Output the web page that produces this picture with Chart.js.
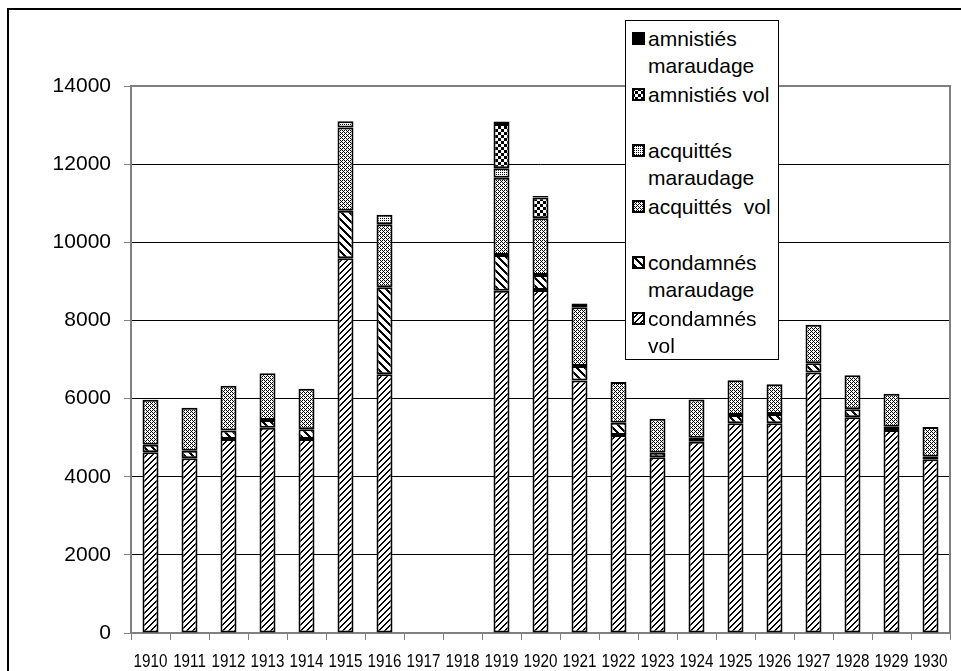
<!DOCTYPE html>
<html>
<head>
<meta charset="utf-8">
<script src="https://cdn.jsdelivr.net/npm/chart.js@4.4.1/dist/chart.umd.min.js"></script>
<style>
  html, body { margin: 0; padding: 0; background: #fff; overflow: hidden; }
  #wrap { position: relative; width: 961px; height: 671px; }
  #frame { position: absolute; left: 7px; top: 8px; width: 1000px; height: 700px; border: 2px solid #000; pointer-events: none; }
  #legend { position: absolute; left: 625px; top: 20px; width: 152px; height: 334px; background: #fff; border: 1px solid #000;
            font-family: "Liberation Sans", Arial, sans-serif; font-size: 21px; color: #000; padding-top: 4px; box-sizing: content-box; }
  .item { position: relative; height: 56px; line-height: 27px; padding-left: 22px; white-space: pre; }
  .item canvas { position: absolute; left: 6px; top: 7px; }
</style>
</head>
<body>
<div id="wrap">
  <canvas id="myBarChart" width="961" height="671"></canvas>
  <div id="frame"></div>
  <div id="legend"></div>
</div>
<script>
const years = ['1910', '1911', '1912', '1913', '1914', '1915', '1916', '1917', '1918', '1919',
               '1920', '1921', '1922', '1923', '1924', '1925', '1926', '1927', '1928', '1929', '1930'];

const condamnesVol       = [4625, 4470, 4965, 5255, 4965, 9590, 6625, null, null, 8760, 8780, 6460, 5068, 4497, 4896, 5367, 5367, 6670, 5520, 5196, 4446];
const condamnesMaraudage = [190, 195, 215, 195, 250, 1220, 2225, null, null, 915, 380, 375, 315, 118, 103, 213, 238, 233, 205, 85, 67];
const acquittesVol       = [1155, 1100, 1150, 1195, 1035, 2130, 1610, null, null, 1975, 1455, 1500, 1040, 870, 975, 886, 760, 985, 870, 845, 760];
const acquittesMaraudage = [0, 0, 0, 0, 0, 160, 245, null, null, 245, 0, 0, 0, 0, 0, 0, 0, 0, 0, 0, 0];
const amnistiesVol       = [0, 0, 0, 0, 0, 0, 0, null, null, 1135, 530, 0, 0, 0, 0, 0, 0, 0, 0, 0, 0];
const amnistiesMaraudage = [0, 0, 0, 0, 0, 0, 0, null, null, 60, 40, 100, 0, 0, 0, 0, 0, 0, 0, 0, 0];

const yTicks = [0, 2000, 4000, 6000, 8000, 10000, 12000, 14000];

// small black and white fills, like the old excel patterns
function makeTile(kind) {
    const c = document.createElement('canvas');
    const s = kind === 'back' ? 8 : (kind === 'checker' || kind === 'fwd') ? 6 : 4;
    c.width = s;
    c.height = s;
    const g = c.getContext('2d');
    g.fillStyle = '#fff';
    g.fillRect(0, 0, s, s);
    g.fillStyle = '#000';
    for (let x = 0; x < s; x++) {
        for (let y = 0; y < s; y++) {
            let on = false;
            if (kind === 'fwd') on = (x + y) % s < 2;
            if (kind === 'back') on = ((x - y) % s + s) % s < 3;
            if (kind === 'dense') on = (x % 2 === 0 && y % 2 === 0) || (x % 4 === 1 && y % 4 === 1) || (x % 4 === 3 && y % 4 === 3);
            if (kind === 'sparse') on = x % 2 === 0 && y % 2 === 0;
            if (kind === 'checker') on = (Math.floor(x / 3) + Math.floor(y / 3)) % 2 === 0;
            if (kind === 'black') on = true;
            if (on) g.fillRect(x, y, 1, 1);
        }
    }
    return c;
}

const ctx = document.getElementById('myBarChart').getContext('2d');
function pattern(kind) {
    return ctx.createPattern(makeTile(kind), 'repeat');
}

const series = [
    { label: 'condamnés\nvol', data: condamnesVol, kind: 'fwd' },
    { label: 'condamnés\nmaraudage', data: condamnesMaraudage, kind: 'back' },
    { label: 'acquittés  vol', data: acquittesVol, kind: 'dense' },
    { label: 'acquittés\nmaraudage', data: acquittesMaraudage, kind: 'sparse' },
    { label: 'amnistiés vol', data: amnistiesVol, kind: 'checker' },
    { label: 'amnistiés\nmaraudage', data: amnistiesMaraudage, kind: 'black' }
];

const plotFrame = {
    id: 'plotFrame',
    beforeDatasetsDraw(chart) {
        const a = chart.chartArea;
        const c = chart.ctx;
        c.save();
        c.strokeStyle = '#808080';
        c.lineWidth = 2;
        c.strokeRect(a.left, a.top, a.right - a.left, a.bottom - a.top);
        c.restore();
    }
};

// the year labels are squeezed horizontally in the original
const narrowYears = {
    id: 'narrowYears',
    afterDraw(chart) {
        const xs = chart.scales.x;
        const c = chart.ctx;
        c.save();
        c.fillStyle = '#000';
        c.font = '19px "Liberation Sans", Arial';
        c.textAlign = 'center';
        c.textBaseline = 'middle';
        xs.ticks.forEach((t, i) => {
            const px = xs.getPixelForTick(i);
            c.save();
            c.translate(px, xs.top + 29);
            c.scale(0.8, 1);
            c.fillText(years[i], 0, 0);
            c.restore();
        });
        c.restore();
    }
};

const config = {
    type: 'bar',
    data: {
        labels: years,
        datasets: series.map(s => ({
            label: s.label,
            data: s.data,
            backgroundColor: pattern(s.kind),
            borderColor: '#000',
            borderWidth: c => (c.raw ? 2 : 0),
            borderSkipped: false,
            barPercentage: 0.41,
            categoryPercentage: 1.0
        }))
    },
    options: {
        responsive: false,
        animation: false,
        layout: { padding: { top: 86, right: 11, left: 0, bottom: 0 } },
        plugins: {
            legend: { display: false },
            tooltip: { enabled: false }
        },
        scales: {
            x: {
                stacked: true,
                grid: { drawOnChartArea: false, offset: true, tickLength: 7, tickColor: '#808080', lineWidth: 1 },
                border: { display: false },
                ticks: { display: false, autoSkip: false },
                afterFit: scale => { scale.height = 38; }
            },
            y: {
                stacked: true,
                min: 0,
                max: 14000,
                afterBuildTicks: scale => { scale.ticks = yTicks.map(v => ({ value: v })); },
                grid: {
                    color: c => (c.index === 0 || c.index === yTicks.length - 1) ? 'rgba(0,0,0,0)' : '#000',
                    tickColor: '#808080',
                    tickLength: 7,
                    lineWidth: 1
                },
                border: { display: false },
                ticks: {
                    color: '#000',
                    font: { family: '"Liberation Sans", Arial', size: 21 },
                    padding: 13,
                    callback: v => String(v)
                },
                afterFit: scale => { scale.width = 131; }
            }
        }
    },
    plugins: [plotFrame, narrowYears]
};

new Chart(ctx, config);

// legend in the excel order (last series on top), text wraps like the original
const legend = document.getElementById('legend');
series.slice().reverse().forEach(s => {
    const item = document.createElement('div');
    item.className = 'item';
    const sw = document.createElement('canvas');
    sw.width = 13;
    sw.height = 13;
    const g = sw.getContext('2d');
    g.fillStyle = g.createPattern(makeTile(s.kind), 'repeat');
    g.fillRect(0, 0, 13, 13);
    g.strokeStyle = '#000';
    g.lineWidth = 2;
    g.strokeRect(1, 1, 11, 11);
    item.appendChild(sw);
    item.appendChild(document.createTextNode(s.label));
    legend.appendChild(item);
});
</script>
</body>
</html>
